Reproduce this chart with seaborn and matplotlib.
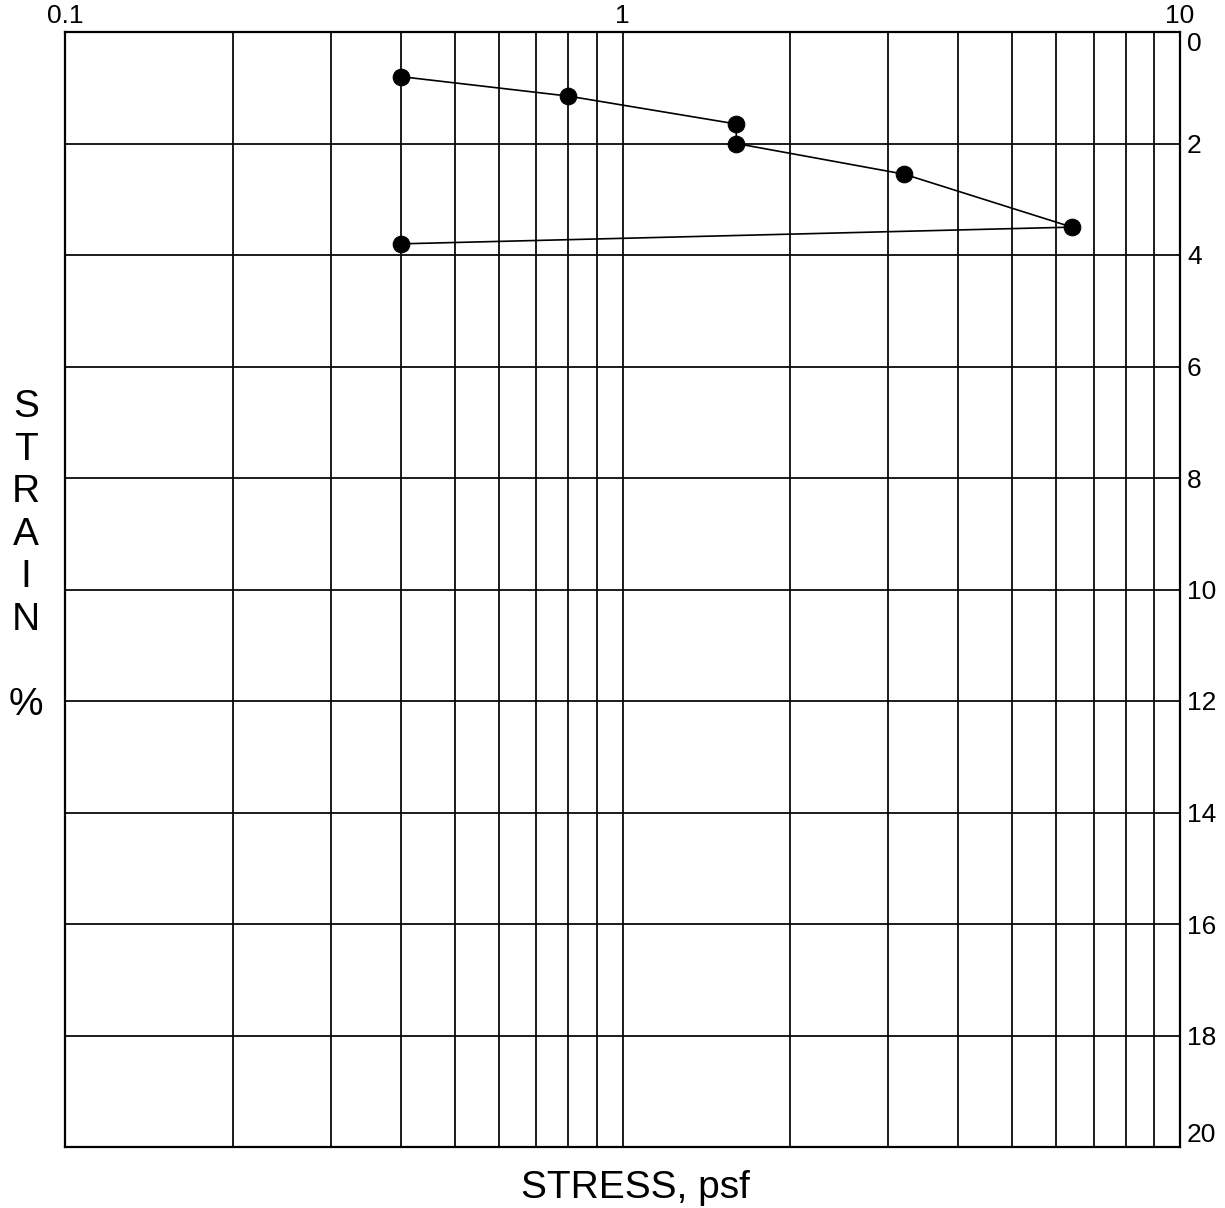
import numpy as np
import pandas as pd
import seaborn as sns
import matplotlib.pyplot as plt
from matplotlib.ticker import LogLocator, FixedLocator, NullFormatter

# consolidation test readings
stress_psf = [0.4, 0.8, 1.6, 1.6, 3.2, 6.4, 0.4]
strain_pct = [0.8, 1.15, 1.65, 2.0, 2.55, 3.5, 3.8]
step = list(range(len(stress_psf)))

x_ticks = [0.1, 1, 10]
x_tick_labels = ["0.1", "1", "10"]
y_ticks = list(range(0, 21, 2))

df = pd.DataFrame({"step": step, "stress": stress_psf, "strain": strain_pct})

sns.set_style("white")
plt.rcParams['font.family'] = ['Liberation Sans', 'DejaVu Sans']
plt.rcParams['text.color'] = 'black'
plt.rcParams['xtick.color'] = 'black'
plt.rcParams['ytick.color'] = 'black'

fig = plt.figure(figsize=(12.25, 12.08), dpi=100)
ax = fig.add_axes([65 / 1225, 1 - 1147 / 1208, 1115 / 1225, 1115 / 1208])

sns.lineplot(data=df, x="stress", y="strain", sort=False, estimator=None,
             color="black", linewidth=1.2, marker="o", markersize=12,
             markeredgecolor="black", markerfacecolor="black", ax=ax)

ax.set_xscale("log")
ax.set_xlim(0.1, 10)
ax.set_ylim(20, 0)

ax.xaxis.set_major_locator(FixedLocator(x_ticks))
ax.set_xticklabels(x_tick_labels)
ax.xaxis.set_minor_locator(LogLocator(base=10, subs=np.arange(2, 10)))
ax.xaxis.set_minor_formatter(NullFormatter())
ax.xaxis.tick_top()
ax.set_yticks(y_ticks)
ax.yaxis.tick_right()

ax.tick_params(axis="both", which="both", length=0, labelsize=19, pad=3,
               labelcolor="black")
ax.tick_params(axis="y", pad=5)
ylabs = ax.get_yticklabels()
ylabs[0].set_va("top")
ylabs[-1].set_va("bottom")

ax.grid(True, which="both", axis="x", color="#0a0a0a", linewidth=1.3)
ax.grid(True, which="major", axis="y", color="#0a0a0a", linewidth=1.3)
for s in ax.spines.values():
    s.set_visible(True)
    s.set_color("black")
    s.set_linewidth(1.6)

ax.set_xlabel("")
ax.set_ylabel("")

fig.text(635 / 1225, 1 - 1188 / 1208, "STRESS, psf", ha="center", va="center",
         fontsize=28, color="black")
fig.text(26 / 1225, 1 - 556 / 1208, "S\nT\nR\nA\nI\nN\n\n%", ha="center", va="center",
         fontsize=28, linespacing=1.23, color="black")

fig.savefig("out.png", dpi=100)
plt.close(fig)
